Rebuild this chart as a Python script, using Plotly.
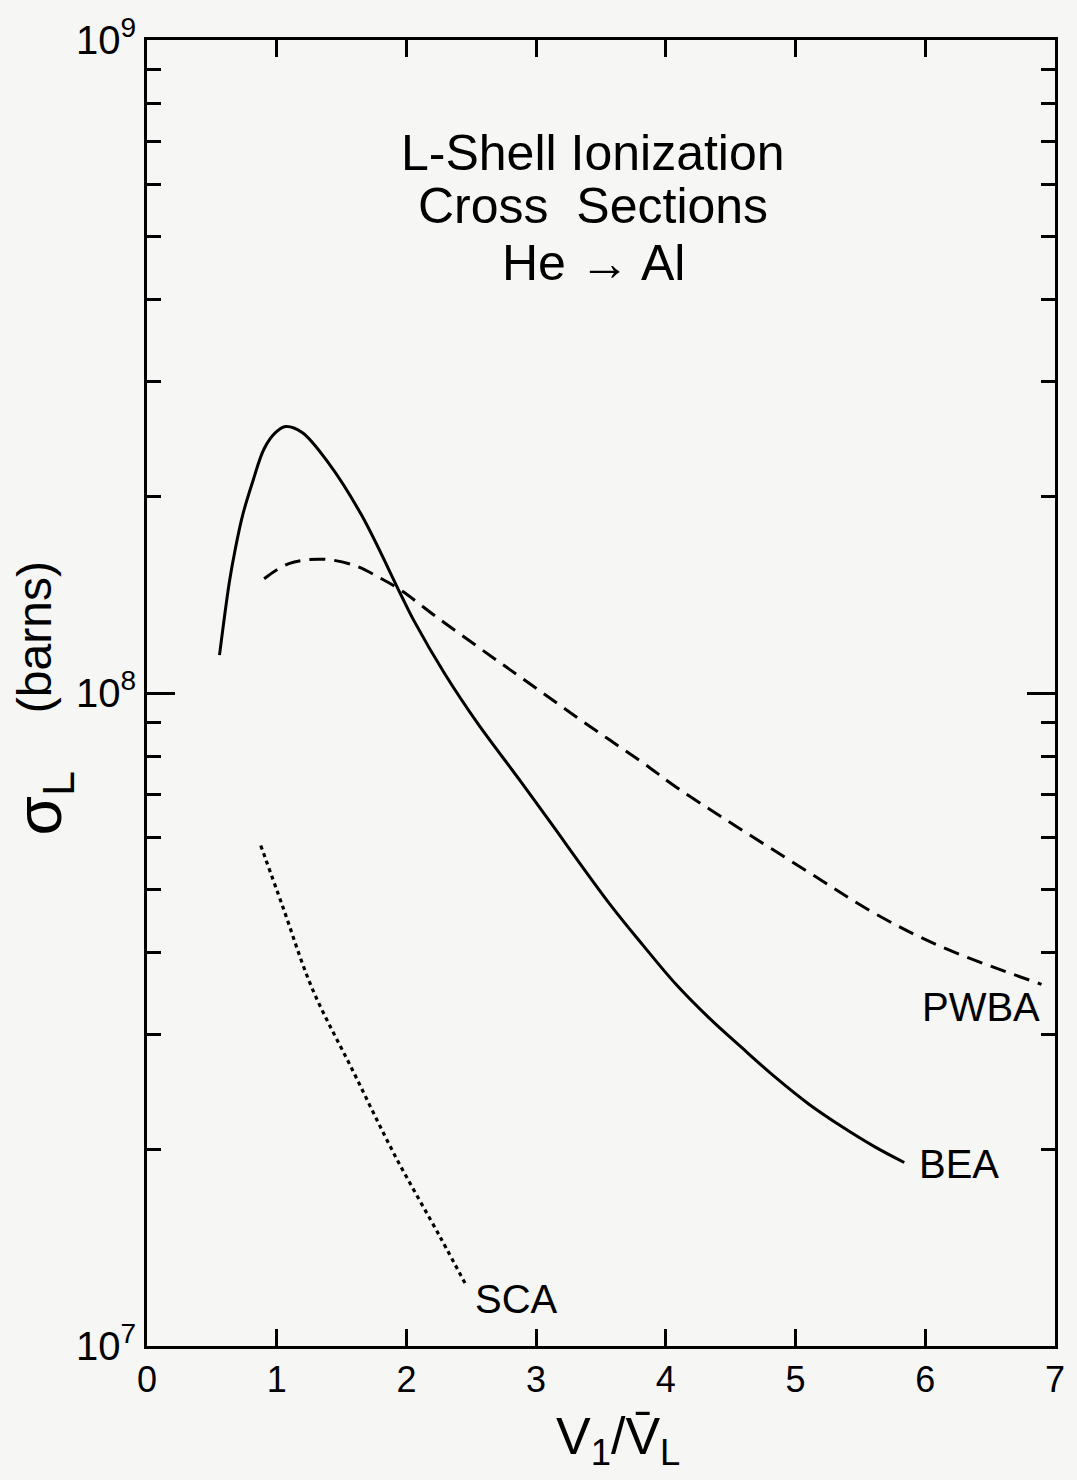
import math
import plotly.graph_objects as go

# ---- data ----
bea_x = [0.559, 0.635, 0.681, 0.737, 0.814, 0.903, 0.992, 1.069, 1.196, 1.40, 1.655,
         1.961, 2.063, 2.293, 2.548, 2.879, 3.109, 3.568, 3.823, 4.078, 4.333, 4.588, 4.843,
         5.098, 5.353, 5.608, 5.838]
bea_y = [1.143e8, 1.479e8, 1.663e8, 1.871e8, 2.104e8, 2.366e8, 2.506e8, 2.559e8,
         2.506e8, 2.249e8, 1.871e8, 1.409e8, 1.285e8, 1.072e8, 8.99e7, 7.33e7, 6.34e7, 4.75e7,
         4.11e7, 3.58e7, 3.18e7, 2.86e7, 2.58e7, 2.35e7, 2.17e7, 2.02e7, 1.91e7]

pwba_x = [0.903, 1.094, 1.349, 1.604, 1.808, 1.961, 2.242, 2.548, 2.803, 3.058, 3.313,
          3.568, 3.823, 4.078, 4.461, 5.098, 5.608, 6.119, 6.896]
pwba_y = [1.496e8, 1.578e8, 1.603e8, 1.567e8, 1.496e8, 1.435e8, 1.303e8, 1.178e8,
          1.084e8, 9.98e7, 9.18e7, 8.47e7, 7.82e7, 7.18e7, 6.40e7, 5.32e7, 4.60e7,
          4.09e7, 3.58e7]

sca_x = [0.877, 1.043, 1.273, 1.591, 1.91, 2.267, 2.459]
sca_y = [5.84e7, 4.73e7, 3.53e7, 2.63e7, 1.96e7, 1.46e7, 1.24e7]

x_ticks = [0, 1, 2, 3, 4, 5, 6, 7]
y_major = [1e7, 1e8, 1e9]
y_major_text = ["10<sup>7</sup>", "10<sup>8</sup>", "10<sup>9</sup>"]
y_minor = [m * 1e7 for m in range(2, 10)] + [m * 1e8 for m in range(2, 10)]

labels = ["PWBA", "BEA", "SCA"]
label_x = [6.43, 6.26, 2.85]
label_y = [3.3e7, 1.9e7, 1.18e7]

title_lines = ["L-Shell Ionization", "Cross  Sections", "He \u2192 Al"]

FONT = "Liberation Sans"
BG = "#f6f6f5"
BLACK = "black"

fig = go.Figure()
fig.add_trace(go.Scatter(x=bea_x, y=bea_y, mode="lines", name="BEA",
                         line=dict(color=BLACK, width=3, shape="spline", smoothing=1.0)))
fig.add_trace(go.Scatter(x=pwba_x, y=pwba_y, mode="lines", name="PWBA",
                         line=dict(color=BLACK, width=3, shape="spline", smoothing=1.0,
                                   dash="16px,9px")))
fig.add_trace(go.Scatter(x=sca_x, y=sca_y, mode="lines", name="SCA",
                         line=dict(color=BLACK, width=3.2, shape="spline", smoothing=1.0,
                                   dash="4px,4px")))

for t, lx, ly in zip(labels, label_x, label_y):
    fig.add_annotation(x=lx, y=math.log10(ly), xref="x", yref="y", text=t, showarrow=False,
                       xanchor="center", yanchor="middle",
                       font=dict(family=FONT, size=40, color=BLACK))

# title block (three centred lines)
title_y = [0.9136, 0.8731, 0.8295]
for t, ty in zip(title_lines, title_y):
    fig.add_annotation(x=3.44, y=ty, xref="x", yref="paper", text=t, showarrow=False,
                       xanchor="center", yanchor="middle",
                       font=dict(family=FONT, size=50, color=BLACK))

# axis titles
fig.add_annotation(x=0.519, y=-0.072, xref="paper", yref="paper",
                   xanchor="center", yanchor="middle",
                   text="V<sub>1</sub>/V\u0304<sub>L</sub>", showarrow=False,
                   font=dict(family=FONT, size=52, color=BLACK))

fig.add_annotation(x=-0.115, y=0.415, xref="paper", yref="paper", textangle=-90,
                   xanchor="center", yanchor="middle",
                   text="\u03c3<sub>L</sub>", showarrow=False,
                   font=dict(family=FONT, size=64, color=BLACK))
fig.add_annotation(x=-0.123, y=0.543, xref="paper", yref="paper", textangle=-90,
                   xanchor="center", yanchor="middle",
                   text="(barns)", showarrow=False,
                   font=dict(family=FONT, size=48, color=BLACK))

fig.update_layout(
    width=1077, height=1480,
    margin=dict(l=147, r=15, t=37, b=134),
    paper_bgcolor=BG, plot_bgcolor=BG,
    showlegend=False,
    xaxis=dict(range=[0, 7], tickmode="array", tickvals=x_ticks,
               ticks="inside", ticklen=17, tickwidth=3, tickcolor=BLACK,
               showline=True, linecolor=BLACK, linewidth=3, mirror="ticks",
               showgrid=False, zeroline=False,
               tickfont=dict(family=FONT, size=36, color=BLACK)),
    yaxis=dict(type="log", range=[7, 9], tickmode="array", tickvals=y_major,
               ticktext=y_major_text,
               ticks="inside", ticklen=28, tickwidth=3, tickcolor=BLACK,
               showline=True, linecolor=BLACK, linewidth=3, mirror="ticks",
               showgrid=False, zeroline=False,
               tickfont=dict(family=FONT, size=40, color=BLACK),
               minor=dict(tickmode="array", tickvals=y_minor, ticks="inside",
                          ticklen=14, tickwidth=3, tickcolor=BLACK, showgrid=False)),
)

fig.write_html("out.html")
